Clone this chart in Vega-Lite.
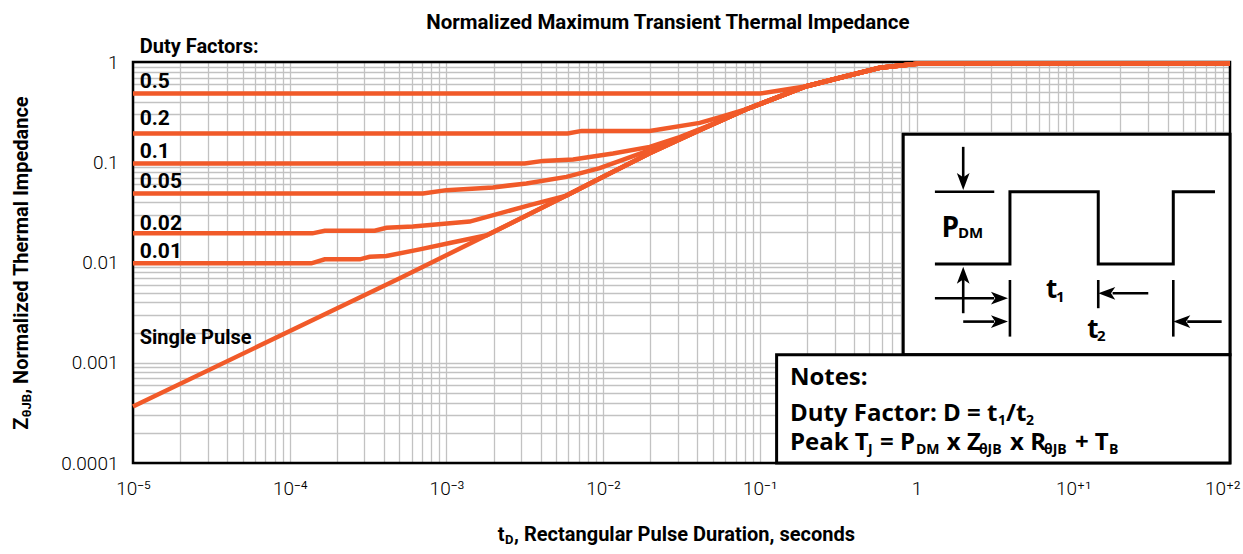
{
  "$schema": "https://vega.github.io/schema/vega-lite/v6.json",
  "width": 1097,
  "height": 401,
  "autosize": {"type": "none"},
  "padding": {"left": 133, "top": 62, "right": 13, "bottom": 91},
  "background": "white",
  "config": {"view": {"stroke": null}},
  "resolve": {"scale": {"x": "independent", "y": "independent"}},
  "layer": [
    {
      "encoding": {
        "x": {
          "field": "t", "type": "quantitative",
          "scale": {"type": "log", "domain": [1e-5, 100], "nice": false},
          "axis": {
            "values": [1e-5,2e-5,3e-5,4e-5,5e-5,6e-5,7e-5,8e-5,9e-5,1e-4,2e-4,3e-4,4e-4,5e-4,6e-4,7e-4,8e-4,9e-4,0.001,0.002,0.003,0.004,0.005,0.006,0.007,0.008,0.009,0.01,0.02,0.03,0.04,0.05,0.06,0.07,0.08,0.09,0.1,0.2,0.3,0.4,0.5,0.6,0.7,0.8,0.9,1,2,3,4,5,6,7,8,9,10,20,30,40,50,60,70,80,90,100],
            "labelExpr": "datum.value == 1e-5 ? '10⁻⁵' : datum.value == 1e-4 ? '10⁻⁴' : datum.value == 0.001 ? '10⁻³' : datum.value == 0.01 ? '10⁻²' : datum.value == 0.1 ? '10⁻¹' : datum.value == 1 ? '1' : datum.value == 10 ? '10⁺¹' : datum.value == 100 ? '10⁺²' : ''",
            "labelAlign": {"condition": {"test": "datum.value == 100", "value": "right"}, "value": "center"},
            "labelOffset": {"condition": {"test": "datum.value == 100", "value": 10}, "value": 0},
            "grid": true, "gridColor": "#c2c2c2", "gridWidth": 1.3,
            "ticks": false, "domain": false, "title": null,
            "labelOverlap": false, "labelFlush": false,
            "labelFont": "Roboto", "labelFontWeight": 300, "labelFontSize": 19, "labelColor": "black",
            "labelPadding": 16
          }
        },
        "y": {
          "field": "z", "type": "quantitative",
          "scale": {"type": "log", "domain": [0.0001, 1], "nice": false},
          "axis": {
            "values": [0.0001,0.0002,0.0003,0.0004,0.0005,0.0006,0.0007,0.0008,0.0009,0.001,0.002,0.003,0.004,0.005,0.006,0.007,0.008,0.009,0.01,0.02,0.03,0.04,0.05,0.06,0.07,0.08,0.09,0.1,0.2,0.3,0.4,0.5,0.6,0.7,0.8,0.9,1],
            "labelExpr": "datum.value == 1 ? '1' : datum.value == 0.1 ? '0.1' : datum.value == 0.01 ? '0.01' : datum.value == 0.001 ? '0.001' : datum.value == 0.0001 ? '0.0001' : ''",
            "grid": true, "gridColor": "#c2c2c2", "gridWidth": 1.3,
            "ticks": false, "domain": false, "title": null,
            "labelOverlap": false, "labelFlush": false,
            "labelFont": "Roboto", "labelFontWeight": 300, "labelFontSize": 19, "labelColor": "black",
            "labelPadding": 15
          }
        }
      },
      "layer": [
        {
          "data": {"values": [{"t": 1e-5, "t2": 100, "z": 0.0001, "z2": 1}]},
          "mark": {"type": "rect", "fill": "transparent", "stroke": "black", "strokeWidth": 2.5},
          "encoding": {"x2": {"field": "t2"}, "y2": {"field": "z2"}}
        },
        {
          "data": {"values": [
            {"s":"sp","t":1e-5,"z":0.000366},{"s":"sp","t":5.035e-4,"z":0.00696},{"s":"sp","t":1.808e-3,"z":0.0187},{"s":"sp","t":5.83e-3,"z":0.0465},{"s":"sp","t":9.51e-3,"z":0.069},{"s":"sp","t":1.983e-2,"z":0.1232},{"s":"sp","t":4.135e-2,"z":0.2088},{"s":"sp","t":8.21e-2,"z":0.338},{"s":"sp","t":0.1983,"z":0.573},{"s":"sp","t":0.3748,"z":0.737},{"s":"sp","t":0.582,"z":0.875},{"s":"sp","t":1.048,"z":0.965},{"s":"sp","t":100,"z":0.965},
            {"s":"d01","t":1e-5,"z":0.00982},{"s":"d01","t":1.375e-4,"z":0.00982},{"s":"d01","t":1.673e-4,"z":0.01076},{"s":"d01","t":2.797e-4,"z":0.01076},{"s":"d01","t":3.239e-4,"z":0.01142},{"s":"d01","t":4.14e-4,"z":0.0116},{"s":"d01","t":6.755e-4,"z":0.01353},{"s":"d01","t":1.05e-3,"z":0.01564},{"s":"d01","t":1.808e-3,"z":0.0187},{"s":"d01","t":5.83e-3,"z":0.0465},{"s":"d01","t":9.51e-3,"z":0.069},{"s":"d01","t":1.983e-2,"z":0.1232},{"s":"d01","t":4.135e-2,"z":0.2088},{"s":"d01","t":8.21e-2,"z":0.338},{"s":"d01","t":0.1983,"z":0.573},{"s":"d01","t":0.3748,"z":0.737},{"s":"d01","t":0.582,"z":0.875},{"s":"d01","t":1.048,"z":0.965},{"s":"d01","t":100,"z":0.965},
            {"s":"d02","t":1e-5,"z":0.01953},{"s":"d02","t":1.396e-4,"z":0.01953},{"s":"d02","t":1.673e-4,"z":0.02074},{"s":"d02","t":3.487e-4,"z":0.02074},{"s":"d02","t":4.14e-4,"z":0.02222},{"s":"d02","t":6.12e-4,"z":0.02284},{"s":"d02","t":1.408e-3,"z":0.0256},{"s":"d02","t":2.188e-3,"z":0.0309},{"s":"d02","t":3.4e-3,"z":0.0374},{"s":"d02","t":5.83e-3,"z":0.0465},{"s":"d02","t":9.51e-3,"z":0.069},{"s":"d02","t":1.983e-2,"z":0.1232},{"s":"d02","t":4.135e-2,"z":0.2088},{"s":"d02","t":8.21e-2,"z":0.338},{"s":"d02","t":0.1983,"z":0.573},{"s":"d02","t":0.3748,"z":0.737},{"s":"d02","t":0.582,"z":0.875},{"s":"d02","t":1.048,"z":0.965},{"s":"d02","t":100,"z":0.965},
            {"s":"d05","t":1e-5,"z":0.0489},{"s":"d05","t":7.09e-4,"z":0.0489},{"s":"d05","t":1e-3,"z":0.0527},{"s":"d05","t":1.983e-3,"z":0.0561},{"s":"d05","t":3.24e-3,"z":0.0615},{"s":"d05","t":5.83e-3,"z":0.0715},{"s":"d05","t":9.51e-3,"z":0.0873},{"s":"d05","t":1.983e-2,"z":0.1319},{"s":"d05","t":4.135e-2,"z":0.2112},{"s":"d05","t":8.21e-2,"z":0.338},{"s":"d05","t":0.1983,"z":0.573},{"s":"d05","t":0.3748,"z":0.737},{"s":"d05","t":0.582,"z":0.875},{"s":"d05","t":1.048,"z":0.965},{"s":"d05","t":100,"z":0.965},
            {"s":"d1","t":1e-5,"z":0.0973},{"s":"d1","t":3.16e-3,"z":0.0973},{"s":"d1","t":4.135e-3,"z":0.1032},{"s":"d1","t":6.43e-3,"z":0.1066},{"s":"d1","t":1.156e-2,"z":0.1224},{"s":"d1","t":1.983e-2,"z":0.1423},{"s":"d1","t":3.08e-2,"z":0.1778},{"s":"d1","t":5.55e-2,"z":0.2566},{"s":"d1","t":8.21e-2,"z":0.338},{"s":"d1","t":0.1983,"z":0.573},{"s":"d1","t":0.3748,"z":0.737},{"s":"d1","t":0.582,"z":0.875},{"s":"d1","t":1.048,"z":0.965},{"s":"d1","t":100,"z":0.965},
            {"s":"d2","t":1e-5,"z":0.1936},{"s":"d2","t":5.94e-3,"z":0.1936},{"s":"d2","t":7.3e-3,"z":0.2055},{"s":"d2","t":1.983e-2,"z":0.2055},{"s":"d2","t":4.135e-2,"z":0.2468},{"s":"d2","t":5.55e-2,"z":0.2812},{"s":"d2","t":8.21e-2,"z":0.338},{"s":"d2","t":0.1983,"z":0.573},{"s":"d2","t":0.3748,"z":0.737},{"s":"d2","t":0.582,"z":0.875},{"s":"d2","t":1.048,"z":0.965},{"s":"d2","t":100,"z":0.965},
            {"s":"d5","t":1e-5,"z":0.4844},{"s":"d5","t":0.1,"z":0.4844},{"s":"d5","t":0.1983,"z":0.573},{"s":"d5","t":0.3748,"z":0.737},{"s":"d5","t":0.582,"z":0.875},{"s":"d5","t":1.048,"z":0.965},{"s":"d5","t":100,"z":0.965}
          ]},
          "mark": {"type": "line", "color": "#f15a29", "strokeWidth": 4.5, "strokeCap": "butt"},
          "encoding": {"detail": {"field": "s", "type": "nominal"}}
        },
        {
          "data": {"values": [
            {"label": "Duty Factors:", "t": 1.104e-5, "z": 1.221, "fs": 20},
            {"label": "0.5", "t": 1.104e-5, "z": 0.556, "fs": 21},
            {"label": "0.2", "t": 1.104e-5, "z": 0.234, "fs": 21},
            {"label": "0.1", "t": 1.104e-5, "z": 0.109, "fs": 21},
            {"label": "0.05", "t": 1.104e-5, "z": 0.0548, "fs": 21},
            {"label": "0.02", "t": 1.104e-5, "z": 0.0211, "fs": 21},
            {"label": "0.01", "t": 1.104e-5, "z": 0.011, "fs": 21},
            {"label": "Single Pulse", "t": 1.104e-5, "z": 0.00154, "fs": 20}
          ]},
          "mark": {"type": "text", "align": "left", "baseline": "alphabetic", "font": "Roboto", "fontWeight": "bold", "color": "black"},
          "encoding": {
            "text": {"field": "label", "type": "nominal"},
            "size": {"field": "fs", "type": "quantitative", "scale": null}
          }
        }
      ]
    },
    {
      "encoding": {
        "x": {"field": "ix", "type": "quantitative", "scale": {"domain": [0, 100], "nice": false, "zero": false}, "axis": null},
        "y": {"field": "iy", "type": "quantitative", "scale": {"domain": [0, 100], "nice": false, "zero": false}, "axis": null}
      },
      "layer": [
        {
          "data": {"values": [
            {"ix": 70.21, "ix2": 100, "iy": 26.97, "iy2": 82.0},
            {"ix": 58.67, "ix2": 100, "iy": 0, "iy2": 26.97}
          ]},
          "mark": {"type": "rect", "fill": "white", "stroke": "black", "strokeWidth": 3},
          "encoding": {"x2": {"field": "ix2"}, "y2": {"field": "iy2"}}
        },
        {
          "data": {"values": [
            {"o": 1, "ix": 73.10, "iy": 49.63},
            {"o": 2, "ix": 79.94, "iy": 49.63},
            {"o": 3, "ix": 79.94, "iy": 67.63},
            {"o": 4, "ix": 87.99, "iy": 67.63},
            {"o": 5, "ix": 87.99, "iy": 49.63},
            {"o": 6, "ix": 94.83, "iy": 49.63},
            {"o": 7, "ix": 94.83, "iy": 67.63},
            {"o": 8, "ix": 98.63, "iy": 67.63}
          ]},
          "mark": {"type": "line", "color": "black", "strokeWidth": 3, "strokeJoin": "miter"},
          "encoding": {"order": {"field": "o", "type": "quantitative"}}
        },
        {
          "data": {"values": [
            {"ix": 73.10, "ix2": 78.51, "iy": 67.63, "iy2": 67.63},
            {"ix": 75.68, "ix2": 75.68, "iy": 78.84, "iy2": 70.0},
            {"ix": 75.68, "ix2": 75.68, "iy": 37.35, "iy2": 47.0},
            {"ix": 73.10, "ix2": 78.5, "iy": 41.09, "iy2": 41.09},
            {"ix": 75.68, "ix2": 78.5, "iy": 35.26, "iy2": 35.26},
            {"ix": 92.55, "ix2": 89.3, "iy": 42.33, "iy2": 42.33},
            {"ix": 99.24, "ix2": 96.1, "iy": 35.26, "iy2": 35.26},
            {"ix": 79.94, "ix2": 79.94, "iy": 45.64, "iy2": 31.52},
            {"ix": 87.99, "ix2": 87.99, "iy": 45.64, "iy2": 38.60},
            {"ix": 94.83, "ix2": 94.83, "iy": 45.64, "iy2": 31.52}
          ]},
          "mark": {"type": "rule", "color": "black", "strokeWidth": 2.6},
          "encoding": {"x2": {"field": "ix2"}, "y2": {"field": "iy2"}}
        },
        {
          "data": {"values": [
            {"ix": 75.68, "iy": 68.05, "shape": "M0,0L-0.75,-2L0,-1.5L0.75,-2Z"},
            {"ix": 75.68, "iy": 48.95, "shape": "M0,0L-0.75,2L0,1.5L0.75,2Z"},
            {"ix": 79.76, "iy": 41.09, "shape": "M0,0L-2,-0.75L-1.5,0L-2,0.75Z"},
            {"ix": 79.76, "iy": 35.26, "shape": "M0,0L-2,-0.75L-1.5,0L-2,0.75Z"},
            {"ix": 87.99, "iy": 42.33, "shape": "M0,0L2,-0.75L1.5,0L2,0.75Z"},
            {"ix": 94.83, "iy": 35.26, "shape": "M0,0L2,-0.75L1.5,0L2,0.75Z"}
          ]},
          "mark": {"type": "point", "filled": true, "color": "black", "opacity": 1, "size": 289, "strokeWidth": 0},
          "encoding": {"shape": {"field": "shape", "type": "nominal", "scale": null}}
        },
        {
          "data": {"values": [
            {"txt": "P", "ix": 73.71, "iy": 56.42, "fs": 28},
            {"txt": "DM", "ix": 75.2, "iy": 56.03, "fs": 15},
            {"txt": "t", "ix": 83.22, "iy": 41.24, "fs": 26},
            {"txt": "1", "ix": 84.13, "iy": 40.24, "fs": 15},
            {"txt": "t", "ix": 86.99, "iy": 31.13, "fs": 26},
            {"txt": "2", "ix": 87.87, "iy": 30.45, "fs": 15},
            {"txt": "Notes:", "ix": 59.88, "iy": 19.5, "fs": 24},
            {"txt": "Duty Factor: D = t", "ix": 59.88, "iy": 10.36, "fs": 24},
            {"txt": "1", "ix": 78.85, "iy": 9.36, "fs": 14},
            {"txt": "/t", "ix": 79.58, "iy": 10.36, "fs": 24},
            {"txt": "2", "ix": 81.4, "iy": 9.36, "fs": 14},
            {"txt": "Peak T", "ix": 59.88, "iy": 3.31, "fs": 24},
            {"txt": "J", "ix": 66.99, "iy": 2.32, "fs": 14},
            {"txt": "= P", "ix": 68.09, "iy": 3.31, "fs": 24},
            {"txt": "DM", "ix": 71.37, "iy": 2.32, "fs": 14},
            {"txt": "x Z", "ix": 74.19, "iy": 3.31, "fs": 24},
            {"txt": "θJB", "ix": 77.11, "iy": 2.32, "fs": 14},
            {"txt": "x R", "ix": 79.95, "iy": 3.31, "fs": 24},
            {"txt": "θJB", "ix": 83.05, "iy": 2.32, "fs": 14},
            {"txt": "+ T", "ix": 85.86, "iy": 3.31, "fs": 24},
            {"txt": "B", "ix": 88.97, "iy": 2.32, "fs": 14}
          ]},
          "mark": {"type": "text", "align": "left", "baseline": "alphabetic", "font": "Open Sans", "fontWeight": "bold", "color": "black"},
          "encoding": {
            "text": {"field": "txt", "type": "nominal"},
            "size": {"field": "fs", "type": "quantitative", "scale": null}
          }
        },
        {
          "data": {"values": [
            {"txt": "t", "ix": 33.25, "iy": -19.35, "fs": 20, "ang": 0},
            {"txt": "D", "ix": 33.92, "iy": -20.1, "fs": 13, "ang": 0},
            {"txt": ", Rectangular Pulse Duration, seconds", "ix": 34.74, "iy": -19.35, "fs": 20, "ang": 0},
            {"txt": "Z", "ix": -9.6, "iy": 8.29, "fs": 20, "ang": 270},
            {"txt": "θJB", "ix": -9.3, "iy": 11.4, "fs": 13, "ang": 270},
            {"txt": ", Normalized Thermal Impedance", "ix": -9.6, "iy": 17.26, "fs": 20, "ang": 270}
          ]},
          "mark": {"type": "text", "align": "left", "baseline": "alphabetic", "font": "Roboto", "fontWeight": "bold", "color": "black"},
          "encoding": {
            "text": {"field": "txt", "type": "nominal"},
            "size": {"field": "fs", "type": "quantitative", "scale": null},
            "angle": {"field": "ang", "type": "quantitative", "scale": null}
          }
        },
        {
          "data": {"values": [
            {"txt": "Normalized Maximum Transient Thermal Impedance", "ix": 48.76, "iy": 108.14, "fs": 20.5}
          ]},
          "mark": {"type": "text", "align": "center", "baseline": "alphabetic", "font": "Roboto", "fontWeight": "bold", "color": "black"},
          "encoding": {
            "text": {"field": "txt", "type": "nominal"},
            "size": {"field": "fs", "type": "quantitative", "scale": null}
          }
        }
      ]
    }
  ]
}
